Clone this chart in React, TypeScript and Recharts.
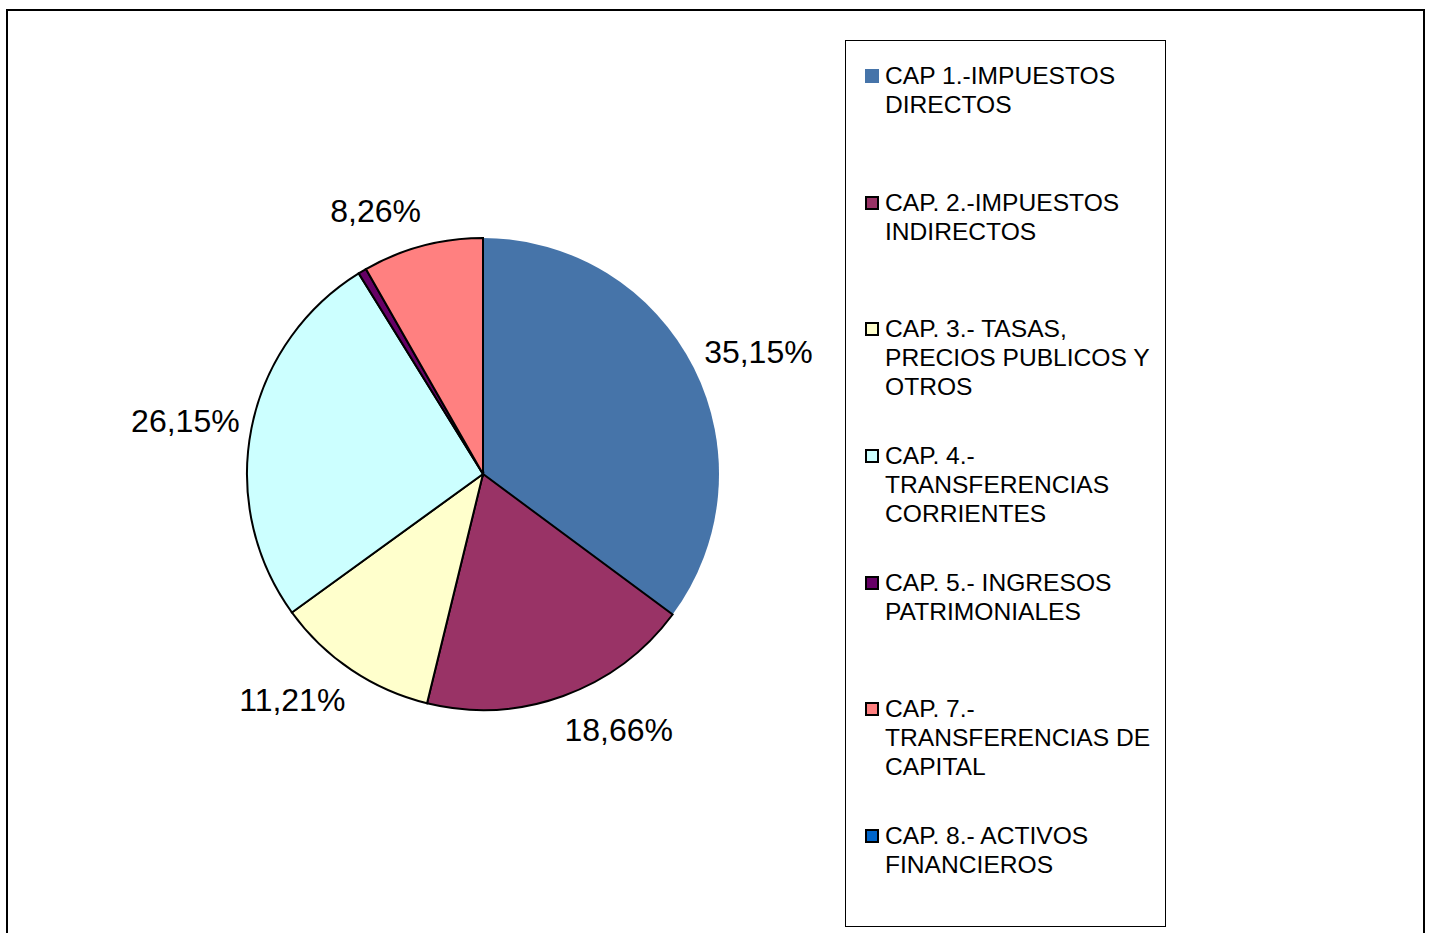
import { PieChart, Pie, Cell, Legend } from "recharts";

const categories = [
  "CAP 1.-IMPUESTOS\nDIRECTOS",
  "CAP. 2.-IMPUESTOS\nINDIRECTOS",
  "CAP. 3.- TASAS,\nPRECIOS PUBLICOS Y\nOTROS",
  "CAP. 4.-\nTRANSFERENCIAS\nCORRIENTES",
  "CAP. 5.- INGRESOS\nPATRIMONIALES",
  "CAP. 7.-\nTRANSFERENCIAS DE\nCAPITAL",
  "CAP. 8.- ACTIVOS\nFINANCIEROS",
];
const shares = [35.15, 18.66, 11.21, 26.15, 0.57, 8.26, 0];
const colors = ["#4674A9", "#993366", "#FFFFCC", "#CCFFFF", "#660066", "#FF8080", "#0066CC"];
const outlined = [false, true, true, true, true, true, true];

const data = categories.map((name, i) => ({ name, value: shares[i] }));

const FONT = "'Liberation Sans', Arial, sans-serif";
const RADIAN = Math.PI / 180;
const LABEL_SIZE = 32;

function fmt(v: number) {
  return v.toFixed(2).replace(".", ",") + "%";
}

// excel-ish placement: label box sits just outside the rim, pushed sideways by part of its width
function renderLabel(props: any) {
  const { cx, cy, midAngle, outerRadius, value } = props;
  if (value < 1) return null;
  const text = fmt(value);
  const digits = text.replace(/[^0-9]/g, "").length;
  const w = LABEL_SIZE * (0.556 * digits + 0.278 + 0.889);
  const cos = Math.cos(-midAngle * RADIAN);
  const sin = Math.sin(-midAngle * RADIAN);
  const r = outerRadius + 36;
  const push = w * (0.28 + 0.18 * (1 - Math.abs(cos)));
  const x = cx + r * cos + Math.sign(cos) * push;
  const y = cy + r * sin;
  return (
    <text x={x} y={y} textAnchor="middle" dominantBaseline="central" fontSize={LABEL_SIZE} fontFamily={FONT} fill="#000">
      {text}
    </text>
  );
}

function LegendBox() {
  return (
    <div style={{ paddingTop: 20, boxSizing: "border-box", height: "100%" }}>
      {categories.map((name, i) => (
        <div key={i} style={{ height: 126.67, display: "flex", alignItems: "flex-start" }}>
          <div
            style={{
              width: 14,
              height: 14,
              marginTop: 8,
              marginLeft: 19,
              marginRight: 6,
              background: colors[i],
              border: outlined[i] ? "2px solid #000" : "none",
              boxSizing: "border-box",
              flex: "none",
            }}
          />
          <div style={{ fontSize: 24.6, lineHeight: "29px", fontFamily: FONT, color: "#000", whiteSpace: "pre-line" }}>
            {name}
          </div>
        </div>
      ))}
    </div>
  );
}

export default function App() {
  return (
    <div style={{ position: "absolute", left: 0, top: 0, width: 1431, height: 933, background: "#fff", overflow: "hidden" }}>
      <div
        style={{
          position: "absolute",
          left: 6,
          top: 9,
          width: 1419,
          height: 940,
          border: "2px solid #000",
          boxSizing: "border-box",
        }}
      />
      <PieChart width={1431} height={933} margin={{ top: 0, right: 0, bottom: 0, left: 0 }}>
        <Pie
          data={data}
          dataKey="value"
          nameKey="name"
          cx={483}
          cy={474}
          outerRadius={236}
          startAngle={90}
          endAngle={-270}
          label={renderLabel}
          labelLine={false}
          isAnimationActive={false}
        >
          {data.map((_, i) => (
            <Cell key={i} fill={colors[i]} stroke={outlined[i] ? "#000" : colors[i]} strokeWidth={outlined[i] ? 2 : 0} />
          ))}
        </Pie>
        <Legend
          layout="vertical"
          content={() => <LegendBox />}
          wrapperStyle={{
            position: "absolute",
            left: 845,
            top: 40,
            width: 321,
            height: 887,
            border: "1px solid #000",
            boxSizing: "border-box",
            background: "#fff",
          }}
        />
      </PieChart>
    </div>
  );
}
